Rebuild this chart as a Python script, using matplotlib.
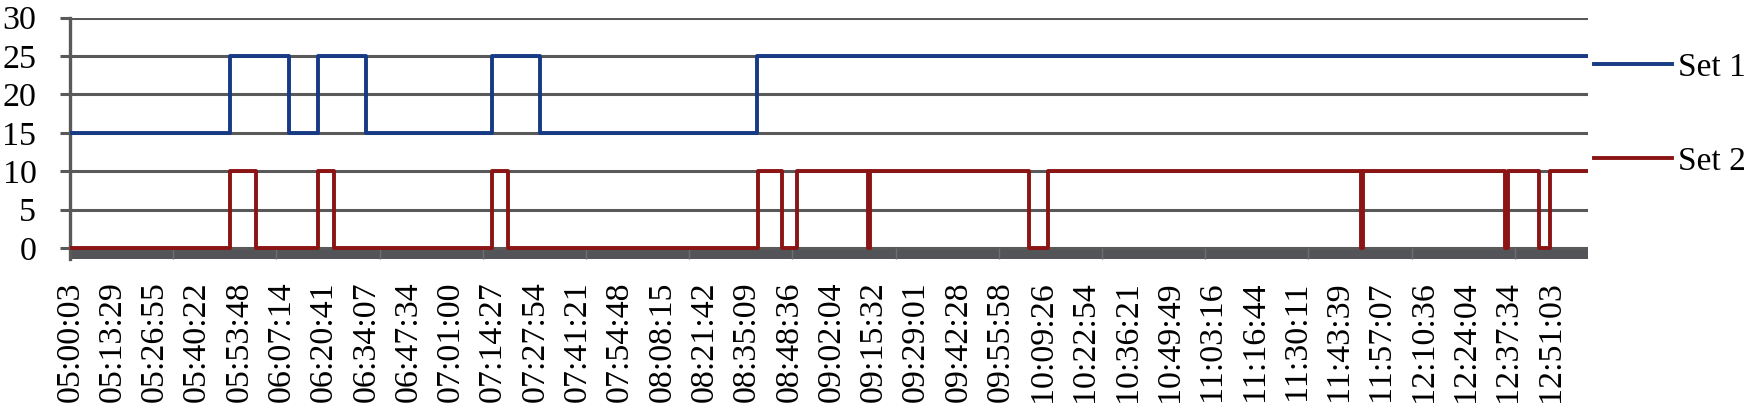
import matplotlib
matplotlib.use("Agg")
import matplotlib.pyplot as plt
import numpy as np

plt.rcParams["font.family"] = ["Liberation Serif", "DejaVu Serif"]

# category labels (one every label step on the x axis)
time_labels = ["05:00:03", "05:13:29", "05:26:55", "05:40:22", "05:53:48", "06:07:14",
               "06:20:41", "06:34:07", "06:47:34", "07:01:00", "07:14:27", "07:27:54",
               "07:41:21", "07:54:48", "08:08:15", "08:21:42", "08:35:09", "08:48:36",
               "09:02:04", "09:15:32", "09:29:01", "09:42:28", "09:55:58", "10:09:26",
               "10:22:54", "10:36:21", "10:49:49", "11:03:16", "11:16:44", "11:30:11",
               "11:43:39", "11:57:07", "12:10:36", "12:24:04", "12:37:34", "12:51:03"]

# step change points, position in label steps
set1_x = [0, 3.78, 5.18, 5.86, 7.00, 9.98, 11.11, 16.24, 35.89]
set1_y = [15, 25, 15, 25, 15, 25, 15, 25, 25]

set2_x = [0, 3.78, 4.40, 5.86, 6.24, 9.98, 10.35, 16.26, 16.83, 17.19,
          18.86, 18.91, 22.67, 23.12, 30.52, 30.57, 33.93, 34.01, 34.73, 34.99, 35.89]
set2_y = [0, 10, 0, 10, 0, 10, 0, 10, 0, 10,
          0, 10, 0, 10, 0, 10, 0, 10, 0, 10, 10]

grid_col = "#595959"
band_col = "#525458"

fig = plt.figure(figsize=(17.5, 4.07), dpi=100)
ax = fig.add_axes([70 / 1750, 1 - 259 / 407, (1588 - 70) / 1750, (259 - 17.7) / 407])

ymin = -1.43
ax.set_xlim(0, 35.89)
ax.set_ylim(ymin, 30)

ax.axhspan(ymin, 0, color=band_col, lw=0, zorder=1)
for v in range(0, 31, 5):
    ax.axhline(v, color=grid_col, lw=2.2, zorder=1)

ax.step(set1_x, set1_y, where="post", color="#173a84", lw=2.8, label="Set 1", zorder=3)
ax.step(set2_x, set2_y, where="post", color="#8b1515", lw=2.8, label="Set 2", zorder=4)

ax.set_yticks(range(0, 31, 5))
ax.set_xticks(range(len(time_labels)))
ax.set_xticklabels(time_labels, rotation=90, fontsize=24.5)
ax.tick_params(axis="x", length=0, pad=16)
ax.tick_params(axis="y", length=7.2, width=2.2, color=grid_col, pad=17, labelsize=24.5)

ax.set_xticks(np.arange(0, 35.9, 2.44), minor=True)
ax.tick_params(axis="x", which="minor", direction="in", length=8, width=1, color="#6e6e70")

for s in ["top", "right", "bottom"]:
    ax.spines[s].set_visible(False)
ax.spines["left"].set_color(grid_col)
ax.spines["left"].set_linewidth(2.4)
ax.spines["left"].set_zorder(2)

fig.legend(loc="center left", bbox_to_anchor=(1594 / 1750, 1 - 114.5 / 407),
           frameon=False, fontsize=24, handlelength=2.33, handletextpad=0.2,
           borderpad=0, borderaxespad=0, labelspacing=1.9)

fig.savefig("out.png", dpi=100)
